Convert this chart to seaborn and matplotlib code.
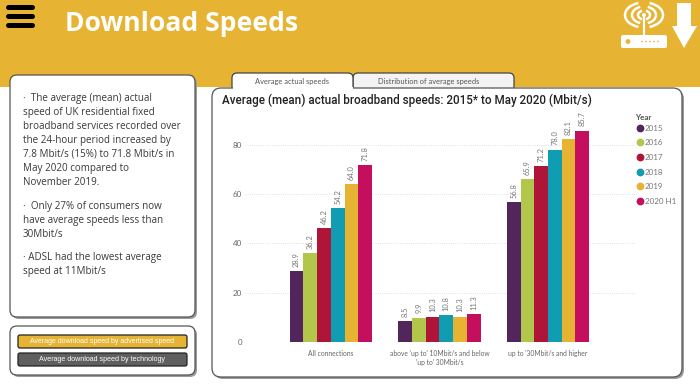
import pandas as pd
import matplotlib
matplotlib.use("Agg")
import matplotlib.pyplot as plt
import seaborn as sns
from matplotlib.lines import Line2D
from matplotlib.patches import Arc, Circle, FancyBboxPatch, Polygon, Rectangle

# -----------------------------
# Chart data
# -----------------------------
categories = [
    "All connections",
    "above 'up to' 10Mbit/s and below\n'up to' 30Mbit/s",
    "up to '30Mbit/s and higher",
]
years = ["2015", "2016", "2017", "2018", "2019", "2020 H1"]
all_connections = [28.9, 36.2, 46.2, 54.2, 64.0, 71.8]
mid_speed = [8.5, 9.9, 10.3, 10.8, 10.3, 11.3]
high_speed = [56.8, 65.9, 71.2, 78.0, 82.1, 85.7]
y_ticks = [0, 20, 40, 60, 80]
year_colors = ["#52265C", "#B2C64B", "#AE1539", "#109DB2", "#E6B333", "#C40F5F"]

rows = []
for category, values in zip(categories, [all_connections, mid_speed, high_speed]):
    for year, value in zip(years, values):
        rows.append({"Category": category, "Year": year, "Speed": value})
df = pd.DataFrame(rows)

YELLOW = "#E6B333"
W, H = 700, 387


def px_box(ax, x0, y0, x1, y1, face="white", edge="#555555", r=7, lw=0.9, shadow=True, z=2):
    # rounded panel in pixel coordinates, with a soft offset shadow
    if shadow:
        ax.add_patch(FancyBboxPatch((x0 + 2, y0 + 2), x1 - x0, y1 - y0,
                                    boxstyle=f"round,pad=0,rounding_size={r}",
                                    fc="#9A9A9A", ec="none", zorder=z - 0.5))
    ax.add_patch(FancyBboxPatch((x0, y0), x1 - x0, y1 - y0,
                                boxstyle=f"round,pad=0,rounding_size={r}",
                                fc=face, ec=edge, lw=lw, zorder=z))


fig = plt.figure(figsize=(W / 100, H / 100), dpi=100, facecolor="white")

# -----------------------------
# Page furniture, drawn on a full-figure pixel axes
# -----------------------------
bg = fig.add_axes([0, 0, 1, 1], zorder=0)
bg.set_xlim(0, W)
bg.set_ylim(H, 0)
bg.axis("off")
bg.add_patch(Rectangle((0, 0), W, 87, fc=YELLOW, ec="none", zorder=1))

# hamburger menu
for y in [6.5, 16, 25]:
    bg.plot([8, 32], [y, y], color="black", lw=3.6, solid_capstyle="round", zorder=3)

bg.text(65, 24, "Download Speeds", color="white", fontsize=19.1, fontweight="bold",
        family="Open Sans", va="center", ha="left", zorder=3)

# router and download arrow icon
bg.add_patch(FancyBboxPatch((621, 35), 46, 13, boxstyle="round,pad=0,rounding_size=2",
                            fc="white", ec="none", zorder=3))
bg.add_patch(Circle((628, 41.5), 2.4, fc=YELLOW, ec="none", zorder=4))
for x in [642, 646, 650, 654, 658]:
    bg.add_patch(Circle((x, 41.5), 0.8, fc=YELLOW, ec="none", zorder=4))
bg.plot([644, 644], [15, 35], color="white", lw=1.6, zorder=3)
bg.add_patch(Circle((644, 15), 2, fc="white", ec="none", zorder=3))
for d, h in [(12, 9), (24, 17), (38, 25)]:
    bg.add_patch(Arc((644, 15), d, h, theta1=115, theta2=245, color="white", lw=1.8, zorder=3))
    bg.add_patch(Arc((644, 15), d, h, theta1=-65, theta2=65, color="white", lw=1.8, zorder=3))
bg.add_patch(Polygon([(677, 3), (691, 3), (691, 26), (697, 26), (684, 48), (672, 26), (677, 26)],
                     fc="white", ec="none", zorder=3))

# tabs
px_box(bg, 353, 73, 514, 100, face="#F3F3F3", edge="#444444", r=5, shadow=False, z=2)
px_box(bg, 232, 73, 353, 100, face="white", edge="#444444", r=5, shadow=False, z=2)
bg.text(292, 81.5, "Average actual speeds", fontsize=5.4, color="#555555", ha="center", va="center",
        family="Lato", zorder=6)
bg.text(429, 81.5, "Distribution of average speeds", fontsize=5.4, color="#555555", ha="center",
        va="center", family="Lato", zorder=6)

# main chart panel
px_box(bg, 212, 88, 682, 377, r=9, z=4)
bg.add_patch(Rectangle((233, 86.5), 119.5, 3, fc="white", ec="none", zorder=5))

# left text panel
px_box(bg, 10, 75, 195, 317, r=7)
text_lines = [
    (23, 98.5, "·  The average (mean) actual"),
    (23, 112.5, "speed of UK residential fixed"),
    (23, 126.5, "broadband services recorded over"),
    (23, 140.5, "the 24-hour period increased by"),
    (23, 154.5, "7.8 Mbit/s (15%) to 71.8 Mbit/s in"),
    (23, 168.5, "May 2020 compared to"),
    (23, 182.5, "November 2019."),
    (23, 206.5, "·  Only 27% of consumers now"),
    (23, 220.5, "have average speeds less than"),
    (23, 234.5, "30Mbit/s"),
    (23, 257.5, "· ADSL had the lowest average"),
    (23, 271.5, "speed at 11Mbit/s"),
]
for x, y, line in text_lines:
    bg.text(x, y, line, fontsize=7.1, color="#3A3A3A", family="Open Sans", va="center", zorder=6)

# buttons panel
px_box(bg, 10, 326, 195, 375, r=7)
px_box(bg, 18, 335, 187, 348, face=YELLOW, edge="#222222", r=2, shadow=False, z=5)
px_box(bg, 18, 353, 187, 366, face="#5F5F5F", edge="#222222", r=2, shadow=False, z=5)
bg.text(102, 341.5, "Average download speed by advertised speed", fontsize=5.05, color="white",
        family="Liberation Sans", ha="center", va="center", zorder=6)
bg.text(102, 359.5, "Average download speed by technology", fontsize=5.1, color="white",
        family="Liberation Sans", ha="center", va="center", zorder=6)

# -----------------------------
# Bar chart
# -----------------------------
ax = fig.add_axes([245 / W, (H - 342) / H, 390 / W, 222 / H], zorder=2)
ax.patch.set_alpha(0)
sns.barplot(data=df, x="Category", y="Speed", hue="Year", hue_order=years, palette=year_colors,
            width=0.756, gap=0, saturation=1, legend=False, ax=ax)
for container in ax.containers:
    ax.bar_label(container, fmt="%.1f", rotation=90, fontsize=5.4, color="#777777", padding=3,
                 family="Lato")

ax.set_xlim(-0.79, 2.8)
ax.set_ylim(0, 90)
ax.set_yticks(y_ticks)
ax.set_xlabel("")
ax.set_ylabel("")
ax.set_axisbelow(True)
ax.grid(axis="y", color="#D8D8D8", linestyle=":", linewidth=0.6)
ax.tick_params(axis="x", length=0, colors="#666666", labelsize=4.9, pad=6)
ax.tick_params(axis="y", length=0, colors="#666666", labelsize=5.8, pad=2)
for label in ax.get_xticklabels() + ax.get_yticklabels():
    label.set_family("Lato")
sns.despine(ax=ax, left=True, bottom=True)

ax.set_title("Average (mean) actual broadband speeds: 2015* to May 2020 (Mbit/s)", loc="left",
             x=(222 - 245) / 390, y=1.035, fontsize=8.35, fontweight="medium", color="#222222",
             family="Roboto")

handles = [Line2D([], [], marker="o", linestyle="", markersize=4.6, color=c) for c in year_colors]
leg = ax.legend(handles, years, title="Year", frameon=False, loc="upper left",
                bbox_to_anchor=(635 / W, (H - 114) / H), bbox_transform=fig.transFigure,
                fontsize=5.8, title_fontsize=5.8, labelspacing=0.95, handletextpad=0.0,
                borderpad=0, borderaxespad=0, handlelength=1.2, alignment="left")
leg._legend_box.sep = 2.6
leg.get_title().set_fontweight("bold")
leg.get_title().set_color("#555555")
leg.get_title().set_family("Lato")
for t in leg.get_texts():
    t.set_color("#777777")
    t.set_family("Lato")

fig.savefig("out.png", dpi=100)
